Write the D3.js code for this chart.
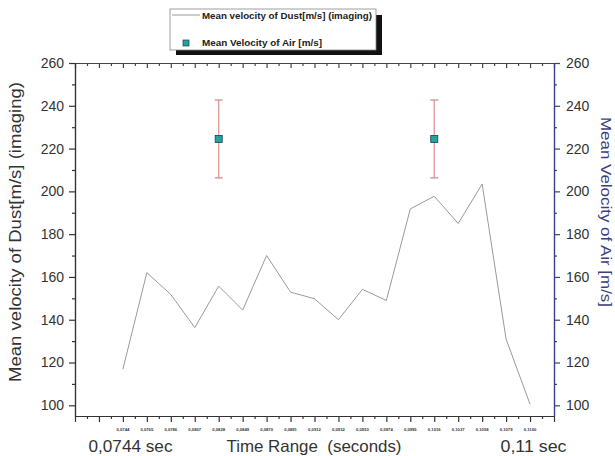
<!DOCTYPE html>
<html lang="en">
<head>
<meta charset="utf-8">
<title>Dust and air velocity</title>
<style>
  body { margin: 0; background: #fff; }
  svg text { font-family: Arial, "Liberation Sans", sans-serif; }
</style>
</head>
<body>
<svg id="chart" width="615" height="456"></svg>
<script src="https://d3js.org/d3.v7.min.js"></script>
<script>
  // point index of every sample (0..17), and the time each one stands for
  var sampleIdx = [0, 1, 2, 3, 4, 5, 6, 7, 8, 9, 10, 11, 12, 13, 14, 15, 16, 17];
  var timeLabels = ["0,0744", "0,0765", "0,0786", "0,0807", "0,0828", "0,0849",
                    "0,0870", "0,0891", "0,0912", "0,0932", "0,0953", "0,0974",
                    "0,0995", "0,1016", "0,1037", "0,1058", "0,1079", "0,1100"];
  var dustVel = [116.9, 162.0, 151.8, 136.3, 155.7, 144.5, 170.0, 152.9, 149.8,
                 140.0, 154.2, 149.0, 191.8, 197.7, 185.0, 203.4, 130.9, 100.5];
  var airIdx = [4, 13];
  var airVel = [224.5, 224.5];
  var airErr = [18.2, 18.2];
  var yMajor = [100, 120, 140, 160, 180, 200, 220, 240, 260];
  var yMinor = [110, 130, 150, 170, 190, 210, 230, 250];

  var svg = d3.select("#chart");
  // NB: can't call these "top" - clashes with window.top
  var pLeft = 75, pRight = 554, pTop = 63, pBottom = 416;

  var x = d3.scaleLinear().domain([-2, 18]).range([pLeft, pRight]);
  var y = d3.scaleLinear().domain([95, 260]).range([pBottom, pTop]);

  var xMajor = d3.range(-2, 18.001, 1);
  var xMinor = d3.range(-1.5, 18, 1);

  svg.append("rect").attr("width", 615).attr("height", 456).attr("fill", "#fff");

  function styleAxis(g, col) {
    g.selectAll("path").attr("stroke", col).attr("stroke-width", 1.2);
    g.selectAll("line").attr("stroke", col).attr("stroke-width", 1.2);
  }

  // bottom axis
  var gb = svg.append("g").attr("transform", `translate(0,${pBottom})`)
    .call(d3.axisBottom(x).tickValues(xMajor).tickSizeInner(6).tickSizeOuter(0).tickFormat(""));
  styleAxis(gb, "#333");
  var gb2 = svg.append("g").attr("transform", `translate(0,${pBottom})`)
    .call(d3.axisBottom(x).tickValues(xMinor).tickSizeInner(3).tickSizeOuter(0).tickFormat(""));
  styleAxis(gb2, "#333");

  // top frame, ticks pointing inwards
  var gt = svg.append("g").attr("transform", `translate(0,${pTop})`)
    .call(d3.axisTop(x).tickValues(xMajor).tickSizeInner(-5).tickSizeOuter(0).tickFormat(""));
  styleAxis(gt, "#444");
  var gt2 = svg.append("g").attr("transform", `translate(0,${pTop})`)
    .call(d3.axisTop(x).tickValues(xMinor).tickSizeInner(-3).tickSizeOuter(0).tickFormat(""));
  styleAxis(gt2, "#444");

  // left axis
  var gl = svg.append("g").attr("transform", `translate(${pLeft},0)`)
    .call(d3.axisLeft(y).tickValues(yMajor).tickSizeInner(6).tickSizeOuter(0).tickPadding(5));
  styleAxis(gl, "#333");
  gl.selectAll("text").attr("font-size", 14).attr("fill", "#333");
  var gl2 = svg.append("g").attr("transform", `translate(${pLeft},0)`)
    .call(d3.axisLeft(y).tickValues(yMinor).tickSizeInner(3).tickSizeOuter(0).tickFormat(""));
  styleAxis(gl2, "#333");

  // right axis (air)
  var navy = "#3a3f85";
  var gr = svg.append("g").attr("transform", `translate(${pRight},0)`)
    .call(d3.axisRight(y).tickValues(yMajor).tickSizeInner(6).tickSizeOuter(0).tickPadding(6));
  styleAxis(gr, navy);
  gr.selectAll("text").attr("font-size", 14).attr("fill", "#333");
  var gr2 = svg.append("g").attr("transform", `translate(${pRight},0)`)
    .call(d3.axisRight(y).tickValues(yMinor).tickSizeInner(3).tickSizeOuter(0).tickFormat(""));
  styleAxis(gr2, navy);

  // tiny time labels under each sample
  svg.append("g").selectAll("text").data(timeLabels).join("text")
    .attr("x", (d, i) => x(sampleIdx[i]))
    .attr("y", 431)
    .attr("text-anchor", "middle")
    .attr("font-size", 4.2)
    .attr("font-weight", "bold")
    .attr("fill", "#333")
    .text(d => d);

  // dust line
  var line = d3.line()
    .x((d, i) => x(sampleIdx[i]))
    .y(d => y(d));
  svg.append("path")
    .attr("d", line(dustVel))
    .attr("fill", "none")
    .attr("stroke", "#9a9a9a")
    .attr("stroke-width", 1);

  // air velocity with error bars
  var err = svg.append("g").selectAll("g").data(airVel).join("g");
  err.append("line")
    .attr("x1", (d, i) => x(airIdx[i])).attr("x2", (d, i) => x(airIdx[i]))
    .attr("y1", (d, i) => y(d + airErr[i])).attr("y2", (d, i) => y(d - airErr[i]))
    .attr("stroke", "#e39a9a").attr("stroke-width", 1.3);
  err.append("line")
    .attr("x1", (d, i) => x(airIdx[i]) - 4).attr("x2", (d, i) => x(airIdx[i]) + 4)
    .attr("y1", (d, i) => y(d + airErr[i])).attr("y2", (d, i) => y(d + airErr[i]))
    .attr("stroke", "#d88a8a").attr("stroke-width", 1.3);
  err.append("line")
    .attr("x1", (d, i) => x(airIdx[i]) - 4).attr("x2", (d, i) => x(airIdx[i]) + 4)
    .attr("y1", (d, i) => y(d - airErr[i])).attr("y2", (d, i) => y(d - airErr[i]))
    .attr("stroke", "#d88a8a").attr("stroke-width", 1.3);
  err.append("rect")
    .attr("x", (d, i) => x(airIdx[i]) - 3.5)
    .attr("y", d => y(d) - 3.5)
    .attr("width", 7).attr("height", 7)
    .attr("fill", "#1fa59c").attr("stroke", "#1c3b5a").attr("stroke-width", 0.8);

  // axis titles (Origin stretches its text a bit, hence textLength)
  svg.append("text")
    .attr("transform", "translate(21,232) rotate(-90)")
    .attr("text-anchor", "middle").attr("font-size", 16.5).attr("fill", "#333")
    .attr("textLength", 300).attr("lengthAdjust", "spacingAndGlyphs")
    .text("Mean velocity of Dust[m/s] (imaging)");
  svg.append("text")
    .attr("transform", "translate(601,212) rotate(90)")
    .attr("text-anchor", "middle").attr("font-size", 15).attr("fill", navy)
    .attr("textLength", 190).attr("lengthAdjust", "spacingAndGlyphs")
    .text("Mean Velocity of Air [m/s]");
  svg.append("text")
    .attr("x", 314).attr("y", 452)
    .attr("text-anchor", "middle").attr("font-size", 16.5).attr("fill", "#333")
    .attr("xml:space", "preserve")
    .attr("textLength", 175).attr("lengthAdjust", "spacingAndGlyphs")
    .text("Time Range  (seconds)");
  svg.append("text")
    .attr("x", 130.5).attr("y", 452)
    .attr("text-anchor", "middle").attr("font-size", 16.5).attr("fill", "#333")
    .attr("textLength", 84).attr("lengthAdjust", "spacingAndGlyphs")
    .text("0,0744 sec");
  svg.append("text")
    .attr("x", 533.5).attr("y", 452)
    .attr("text-anchor", "middle").attr("font-size", 16.5).attr("fill", "#333")
    .attr("textLength", 66).attr("lengthAdjust", "spacingAndGlyphs")
    .text("0,11 sec");

  // legend
  var lg = svg.append("g");
  lg.append("rect").attr("x", 176).attr("y", 15).attr("width", 206).attr("height", 40).attr("fill", "#111");
  lg.append("rect").attr("x", 170).attr("y", 9).attr("width", 206).attr("height", 41)
    .attr("fill", "#fff").attr("stroke", "#888").attr("stroke-width", 0.8);
  lg.append("line").attr("x1", 172).attr("x2", 200).attr("y1", 15).attr("y2", 15)
    .attr("stroke", "#9a9a9a").attr("stroke-width", 1);
  lg.append("text").attr("x", 202).attr("y", 18.5).attr("font-size", 9.8)
    .attr("font-weight", "bold").attr("fill", "#222")
    .attr("textLength", 170).attr("lengthAdjust", "spacingAndGlyphs")
    .text("Mean velocity of Dust[m/s] (imaging)");
  lg.append("rect").attr("x", 183).attr("y", 40).attr("width", 6).attr("height", 6)
    .attr("fill", "#1fa59c").attr("stroke", "#1c3b5a").attr("stroke-width", 0.7);
  lg.append("text").attr("x", 202).attr("y", 46).attr("font-size", 9.8)
    .attr("font-weight", "bold").attr("fill", "#222")
    .attr("textLength", 120).attr("lengthAdjust", "spacingAndGlyphs")
    .text("Mean Velocity of Air [m/s]");
</script>
</body>
</html>
